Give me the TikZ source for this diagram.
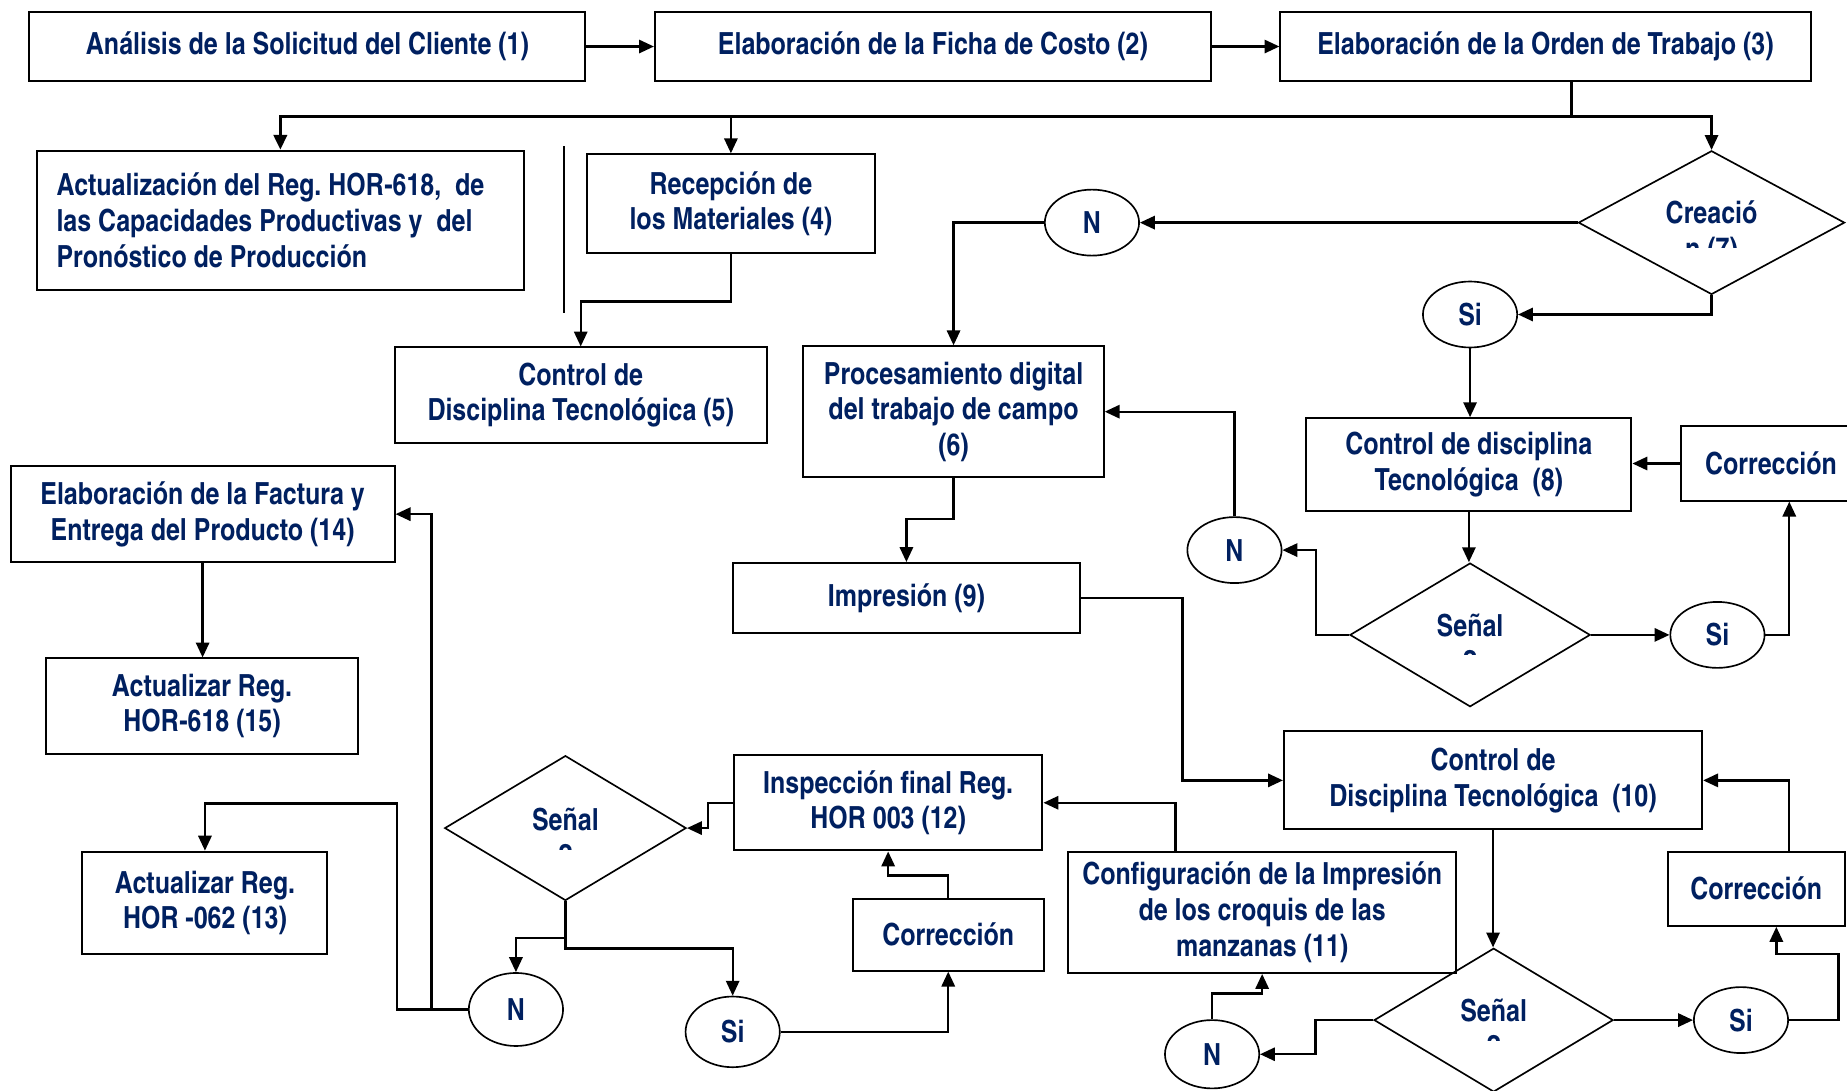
\documentclass[tikz,border=0pt]{standalone}
\usepackage{fontspec}
\setmainfont{texgyreheroscn}[Extension=.otf,UprightFont=*-regular,BoldFont=*-bold,ItalicFont=*-italic,BoldItalicFont=*-bolditalic]
\usetikzlibrary{arrows.meta, shapes.geometric, calc}
\definecolor{navy}{RGB}{0,32,96}
\frenchspacing

\begin{document}
\begin{tikzpicture}[x=0.125mm,y=-0.125mm,
  every node/.style={font=\bfseries\fontsize{9.2}{10.75}\selectfont, text=navy, inner sep=0pt, align=center},
  box/.style={draw=black, line width=0.6pt},
  leftbox/.style={box, align=flush left, text width=47.5mm, execute at begin node={\spaceskip=0pt\xspaceskip=0pt}},
  dec/.style={draw=black, diamond, line width=0.5pt},
  ans/.style={draw=black, ellipse, line width=0.5pt, minimum width=10mm, minimum height=7mm},
  conn/.style={line width=0.7pt},
  arr/.style={conn, -{Triangle[length=4.5pt,width=4pt]}}]
\useasboundingbox (0,0) rectangle (1568,926);
\node[box, minimum width=59mm, minimum height=7.375mm] (analisis) at (261,39.5) {Análisis de la Solicitud del Cliente (1)};
\node[box, minimum width=59mm, minimum height=7.375mm] (ficha) at (792,39.5) {Elaboración de la Ficha de Costo (2)};
\node[box, minimum width=56.25mm, minimum height=7.375mm] (orden) at (1312,39.5) {Elaboración de la Orden de Trabajo (3)};
\node[leftbox, minimum width=51.75mm, minimum height=14.75mm] (actual) at (238,187) {Actualización del Reg. HOR-618,~ de\\las Capacidades Productivas y~ del\\Pronóstico de Producción};
\node[box, minimum width=30.625mm, minimum height=10.5mm] (recep) at (620.5,173) {Recepción de\\los Materiales (4)};
\node[box, minimum width=39.5mm, minimum height=10.125mm] (ctrl5) at (493,335.5) {Control de\\Disciplina Tecnológica (5)};
\node[dec, minimum width=28.25mm, minimum height=15.25mm] (crea) at (1453,189) {};
\node[ans] (no7) at (927,189) {N};
\node[ans] (si7) at (1248,267) {Si};
\node[box, minimum width=31.875mm, minimum height=13.875mm] (proc) at (809.5,349.5) {Procesamiento digital\\del trabajo de campo\\(6)};
\node[box, minimum width=34.5mm, minimum height=9.875mm] (ctrl8) at (1247,394.5) {Control de disciplina\\Tecnológica~ (8)};
\node[box, minimum width=19.125mm, minimum height=7.875mm] (corr8) at (1503.5,393.5) {Corrección};
\node[dec, minimum width=25.5mm, minimum height=15.25mm] (senal8) at (1248,539) {};
\node[ans] (si8) at (1458,539) {Si};
\node[ans] (no8) at (1048,467) {N};
\node[box, minimum width=36.875mm, minimum height=7.375mm] (impr) at (769.5,507.5) {Impresión (9)};
\node[box, minimum width=44.375mm, minimum height=10.375mm] (ctrl10) at (1267.5,662.5) {Control de\\Disciplina Tecnológica~ (10)};
\node[box, minimum width=18.75mm, minimum height=7.875mm] (corr10) at (1491,754.5) {Corrección};
\node[dec, minimum width=25.375mm, minimum height=15.25mm] (senal10) at (1268,866) {};
\node[ans] (si10) at (1478,866) {Si};
\node[ans, minimum height=7.25mm] (no10) at (1029,895) {N};
\node[box, minimum width=41.125mm, minimum height=12.875mm] (config) at (1071.5,774.5) {Configuración de la Impresión\\de los croquis de las\\manzanas (11)};
\node[box, minimum width=32.75mm, minimum height=10.125mm] (insp) at (754,681.5) {Inspección final Reg.\\HOR 003 (12)};
\node[dec, minimum width=25.625mm, minimum height=15.375mm] (senal12) at (480,703) {};
\node[ans, minimum height=7.75mm] (no12) at (438,857) {N};
\node[ans, minimum height=7.5mm] (si12) at (622,876) {Si};
\node[box, minimum width=20.25mm, minimum height=7.625mm] (corr12) at (805,793.5) {Corrección};
\node[box, minimum width=26mm, minimum height=10.875mm] (act13) at (174,766.5) {Actualizar Reg.\\HOR -062 (13)};
\node[box, minimum width=40.75mm, minimum height=10.125mm] (fact) at (172,436.5) {Elaboración de la Factura y\\Entrega del Producto (14)};
\node[box, minimum width=33.125mm, minimum height=10.125mm] (act15) at (171.5,599.5) {Actualizar Reg.\\HOR-618 (15)};
\begin{scope}
\clip (1390,160) rectangle (1516,210);
\node (creatxt) at (1453,198) {Creació\\n (7)};
\end{scope}
\begin{scope}
\clip (1190,500) rectangle (1306,556);
\node (senal8txt) at (1248,546) {Señal\\?};
\end{scope}
\begin{scope}
\clip (1210,830) rectangle (1326,883);
\node (senal10txt) at (1268,873) {Señal\\?};
\end{scope}
\begin{scope}
\clip (420,665) rectangle (540,721);
\node (senal12txt) at (480,711) {Señal\\?};
\end{scope}
\coordinate (j3) at (1334,99);
\draw[arr] (analisis) -- (ficha);
\draw[arr] (ficha) -- (orden);
\draw[conn] (j3 |- orden.south) -- (j3);
\draw[arr, line width=1pt] (j3) -| (actual.north);
\draw[arr] (j3) -| (recep.north);
\draw[arr] (j3) -| (crea.north);
\draw[arr] (recep.south) -- ++(0,40) -| (ctrl5.north);
\draw[conn] (479,124) -- (479,266);
\draw[arr] (crea.west) -- (no7.east);
\draw[arr] (no7.west) -| (proc.north);
\draw[arr] (crea.south) |- (si7.east);
\draw[arr] (si7.south) -- (si7.south |- ctrl8.north);
\draw[arr] (corr8.west) -- (corr8.west -| ctrl8.east);
\draw[arr] (ctrl8.south) -- (ctrl8.south |- senal8.north);
\draw[arr] (senal8.east) -- (si8.west);
\draw[arr] (si8.east) -| ($(corr8.south)+(15.5,0)$);
\draw[arr] (senal8.west) -- ++(-28,0) |- (no8.east);
\draw[arr] (no8.north) |- (proc.east);
\draw[arr] (proc.south) -- ++(0,35) -| (impr.north);
\draw[arr] (impr.east) -- ++(86,0) |- (ctrl10.west);
\draw[arr] ($(corr10.north)+(28,0)$) |- (ctrl10.east);
\draw[arr] (ctrl10.south) -- (ctrl10.south |- senal10.north);
\draw[arr] (senal10.east) -- (si10.west);
\draw[arr] (si10.east) -- ++(42,0) -- ++(0,-56) -| ($(corr10.south)+(17,0)$);
\draw[arr] (senal10.west) -- ++(-49,0) |- (no10.east);
\draw[arr] (no10.north) -- ++(0,-22) -| (config.south);
\draw[arr] ($(config.north)+(-73.5,0)$) |- (insp.east);
\draw[arr] (insp.west) -- ++(-21,0) |- (senal12.east);
\draw[arr] (senal12.south) -- ++(0,31) -| (no12.north);
\draw[arr] (senal12.south) -- ++(0,40) -| (si12.north);
\draw[arr] (si12.east) -| (corr12.south);
\draw[arr] (corr12.north) -- ++(0,-19) -| (insp.south);
\draw[arr] (no12.west) -- ++(-60,0) -- ++(0,-175) -| (act13.north);
\draw[arr] ($(no12.west)+(-31,0)$) |- (fact.east);
\draw[arr] (fact.south) -- (fact.south |- act15.north);
\end{tikzpicture}
\end{document}
